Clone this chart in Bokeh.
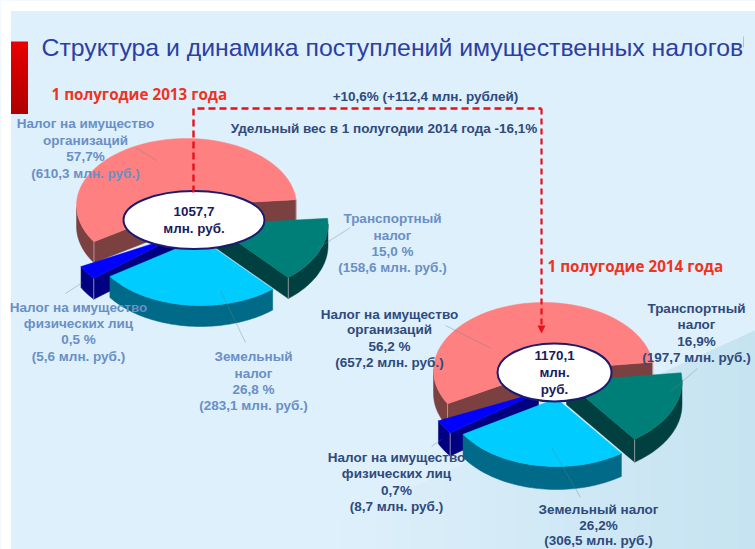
import math
from bokeh.plotting import figure
from bokeh.models import Range1d
from bokeh.core.properties import value
from bokeh.embed import file_html
from bokeh.resources import INLINE

# ---- data
slices = ["Налог на имущество организаций", "Транспортный налог", "Земельный налог", "Налог на имущество физических лиц"]
shares_2013 = [57.7, 15.0, 26.8, 0.5]
shares_2014 = [56.2, 16.9, 26.2, 0.7]
millions_2013 = [610.3, 158.6, 283.1, 5.6]
millions_2014 = [657.2, 197.7, 306.5, 8.7]
total_2013 = "1057,7"
total_2014 = "1170,1"

# ---- styles and layout
TOPS = ["#FF8080", "#007F78", "#00CCFF", "#0000FF"]
WALLS = ["#7B4040", "#004040", "#006A88", "#000080"]
FONT = "Liberation Sans"
LIGHT = "#6A8FC6"
DARK = "#2F4A7C"
RED = "#E8101A"
MIN_SWEEP = 12.0

p = figure(width=755, height=549, output_backend="svg", toolbar_location=None,
           x_range=Range1d(0, 755), y_range=Range1d(549, 0),
           min_border=0, background_fill_color="#DEF0FB", border_fill_color="white",
           outline_line_color=None)
p.axis.visible = False
p.grid.visible = False

# slide background: a soft band rising towards the right edge
sx0, sy0, sx1, sy1 = 755, 330, 340, 520
steps = 24
bg, deep = (222, 240, 251), (198, 227, 241)
for j in range(steps, 0, -1):
    xe = sx0 + (sx1 - sx0) * j / steps
    ye = sy0 + (sy1 - sy0) * j / steps
    mix = 1 - (j - 1) / steps
    col = "#%02X%02X%02X" % tuple(int(round(a + (b - a) * mix)) for a, b in zip(bg, deep))
    p.patch([sx0, xe, xe, sx0], [sy0, ye, 549, 549], fill_color=col, line_color=None)
p.quad(left=0, right=755, top=0, bottom=10.5, fill_color="white", line_color=None)
p.quad(left=0, right=10.5, top=0, bottom=549, fill_color="white", line_color=None)

# red marker on the left, as a stack of bands
n = 24
for i in range(n):
    f = i / (n - 1)
    col = "#%02X0000" % int(232 - f * 56)
    p.quad(left=10.5, right=27.5, top=41 + 72 * i / n, bottom=41 + 72 * (i + 1) / n + 0.4, fill_color=col, line_color=None)


def arc(cx, cy, rx, ry, a, b, steps=60):
    return [(cx + rx * math.cos(math.radians(a + (b - a) * k / steps)),
             cy - ry * math.sin(math.radians(a + (b - a) * k / steps))) for k in range(steps + 1)]


def pie(shares, start, rx0, ry0, depth, centers, scales, order=(0, 3, 2, 1)):
    angs, t = {}, start
    spans = [shares[1], shares[2], shares[3], shares[0]]
    idx = [1, 2, 3, 0]
    for i, s in zip(idx, spans):
        angs[i] = (t - s * 3.6, t)
        t -= s * 3.6
    for i in order:
        a, b = angs[i]
        rx, ry = rx0 * scales[i], ry0 * scales[i]
        if b - a < MIN_SWEEP:
            m = (a + b) / 2
            a, b = m - MIN_SWEEP / 2, m + MIN_SWEEP / 2
        cx, cy = centers[i]
        rim = arc(cx, cy, rx, ry, a, b)
        # outer wall: the part of the rim facing the viewer
        pts = [q for q, k in zip(rim, range(61)) if math.sin(math.radians(a + (b - a) * k / 60)) <= 0.02]
        if pts:
            xs = [q[0] for q in pts] + [q[0] for q in reversed(pts)]
            ys = [q[1] for q in pts] + [q[1] + depth for q in reversed(pts)]
            p.patch(xs, ys, fill_color=WALLS[i], line_color=WALLS[i], line_width=0.5)
        # radial walls, where their outward side faces down
        mid = arc(cx, cy, rx, ry, (a + b) / 2, (a + b) / 2, 1)[0]
        for q in (rim[0], rim[-1]):
            ex, ey = q[0] - cx, q[1] - cy
            nx, ny = -ey, ex
            if nx * (mid[0] - cx) + ny * (mid[1] - cy) > 0:
                nx, ny = -nx, -ny
            if ny > 0:
                p.patch([cx, q[0], q[0], cx], [cy, q[1], q[1] + depth, cy + depth],
                        fill_color=WALLS[i], line_color=WALLS[i], line_width=0.5)
                p.segment(q[0], q[1], q[0], q[1] + depth, line_color="#C9B8C0", line_width=1, line_alpha=0.7)
        xs = [cx] + [q[0] for q in rim]
        ys = [cy] + [q[1] for q in rim]
        p.patch(xs, ys, fill_color=TOPS[i], line_color=TOPS[i], line_width=0.5)


pie(shares_2013, 5.0, 110, 67, 21,
    [(186, 205), (212, 224), (200, 238), (178, 235)], [1, 1.05, 1, 1])
pie(shares_2014, 7.0, 110, 68, 23,
    [(543, 370), (566, 381), (556, 398), (538, 392)], [1, 1.05, 1, 1])

# leader lines
lead_x0 = [135, 350, 220, 82, 445, 697, 551, 441]
lead_y0 = [147, 227, 290, 282, 325, 368, 447, 439]
lead_x1 = [156, 317, 245, 65, 491, 669, 580, 431]
lead_y1 = [160, 248, 342, 293, 348, 392, 497, 446]
p.segment(lead_x0, lead_y0, lead_x1, lead_y1, line_color="#6F8088", line_width=0.7, line_alpha=0.55)
p.segment(743, 36, 743, 47, line_color="#A8C4E0", line_width=1)

# totals
for cx, cy, w, lines in [(193.5, 219.5, 141, [total_2013, "млн. руб."]),
                         (554, 372, 114, [total_2014, "млн.", "руб."])]:
    p.ellipse(cx, cy, width=w, height=58, fill_color="white", line_color="#1B1B70", line_width=2)
    h = 17
    for k, s in enumerate(lines):
        p.text([cx], [cy + (k - (len(lines) - 1) / 2) * h], text=[s], text_align="center", text_baseline="middle",
               text_font=value(FONT), text_font_style="bold", text_font_size="13.4px", text_color="#1A1A5E")

# red dashed connector
p.line([193, 193, 541], [192, 108, 108], line_color=RED, line_width=2.4, line_dash="7 4")
p.line([541, 541], [108, 326], line_color=RED, line_width=2.2, line_dash="6 4")
p.patch([537, 545, 541], [325, 325, 333], fill_color=RED, line_color=None)


def block(x, ys, lines, color, size="13.5px"):
    p.text([x] * len(ys), ys, text=lines, text_align="center", text_baseline="middle",
           text_font=value(FONT), text_font_style="bold", text_font_size=size, text_color=color)


def fmt(v):
    return ("%.1f" % v).replace(".", ",")


p.text([41], [47], text=["Структура и динамика поступлений имущественных налогов"], text_baseline="middle",
       text_font=value(FONT), text_font_size="24.8px", text_color="#2B3FA5")
p.text([51], [93], text=["1 полугодие 2013 года"], text_baseline="middle",
       text_font=value("Open Sans"), text_font_style="bold", text_font_size="15.2px", text_color="#EE3322")
p.text([547], [265], text=["1 полугодие 2014 года"], text_baseline="middle",
       text_font=value("Open Sans"), text_font_style="bold", text_font_size="15.2px", text_color="#EE3322")
block(425, [96], ["+10,6% (+112,4 млн. рублей)"], DARK)
block(383.5, [128], ["Удельный вес в 1 полугодии 2014 года -16,1%"], DARK)

block(85, [123, 140, 156, 173], ["Налог на имущество", "организаций", fmt(shares_2013[0]) + "%",
                                 "(%s млн. руб.)" % fmt(millions_2013[0])], LIGHT)
block(392, [218, 235, 251, 267], ["Транспортный", "налог", fmt(shares_2013[1]) + " %",
                                  "(%s млн. руб.)" % fmt(millions_2013[1])], LIGHT)
block(253, [356, 373, 389, 405], ["Земельный", "налог", fmt(shares_2013[2]) + " %",
                                  "(%s млн. руб.)" % fmt(millions_2013[2])], LIGHT)
block(78, [307, 323, 339, 356], ["Налог на имущество", "физических лиц", fmt(shares_2013[3]) + " %",
                                 "(%s млн. руб.)" % fmt(millions_2013[3])], LIGHT)
block(389, [314, 329, 346, 362], ["Налог на имущество", "организаций", fmt(shares_2014[0]) + " %",
                                  "(%s млн. руб.)" % fmt(millions_2014[0])], DARK)
block(696, [308, 324, 341, 357], ["Транспортный", "налог", fmt(shares_2014[1]) + "%",
                                  "(%s млн. руб.)" % fmt(millions_2014[1])], DARK)
block(598, [509, 525, 540], ["Земельный налог", fmt(shares_2014[2]) + "%",
                             "(%s млн. руб.)" % fmt(millions_2014[2])], DARK)
block(396, [457, 473, 490, 506], ["Налог на имущество", "физических лиц", fmt(shares_2014[3]) + "%",
                                  "(%s млн. руб.)" % fmt(millions_2014[3])], DARK)

open("out.html", "w").write(file_html(p, INLINE))
